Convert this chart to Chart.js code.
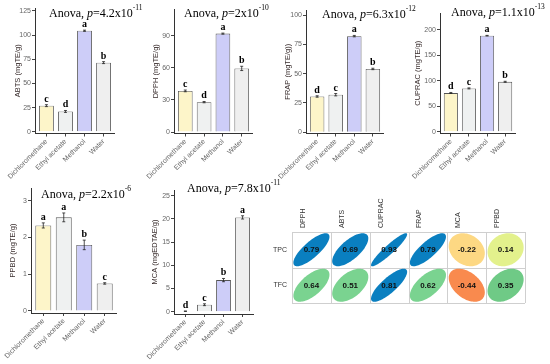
<!DOCTYPE html>
<html><head><meta charset="utf-8">
<script src="https://cdn.jsdelivr.net/npm/chart.js@4.4.1/dist/chart.umd.min.js"></script>
<style>
html,body{margin:0;padding:0;background:#fff;}
#wrap{position:relative;width:550px;height:364px;overflow:hidden;background:#fff;}
canvas{position:absolute;}
.ttl{position:absolute;font-family:"Liberation Serif","Times New Roman",serif;font-size:12px;line-height:12px;white-space:nowrap;color:#000;}
.ttl sup{font-size:7.5px;line-height:7px;vertical-align:top;position:relative;top:-3px;}
</style></head><body><div id="wrap"></div>
<script>
// ---------- data ----------
const categories = ["Dichloromethane","Ethyl acetate","Methanol","Water"];

const abtsValues  = [27, 21, 104.5, 71.5];
const abtsErrors  = [1, 1, 0.6, 1];
const abtsLetters = ["c","d","a","b"];
const abtsTicks   = [0,25,50,75,100,125];

const dpphValues  = [38.5, 28, 92, 59.5];
const dpphErrors  = [0.8, 0.6, 0.5, 2];
const dpphLetters = ["c","d","a","b"];
const dpphTicks   = [0,30,60,90];

const frapValues  = [30.5, 32, 82, 54];
const frapErrors  = [0.6, 1, 0.6, 0.6];
const frapLetters = ["d","c","a","b"];
const frapTicks   = [0,25,50,75,100];

const cupracValues  = [76, 85, 188.5, 98];
const cupracErrors  = [1, 1, 0.6, 1];
const cupracLetters = ["d","c","a","b"];
const cupracTicks   = [0,50,100,150,200];

const ppbdValues  = [2.33, 2.55, 1.8, 0.75];
const ppbdErrors  = [0.07, 0.12, 0.13, 0.02];
const ppbdLetters = ["a","a","b","c"];
const ppbdTicks   = [0,1,2,3];

const mcaValues  = [0.1, 1.5, 6.8, 20.3];
const mcaErrors  = [0.05, 0.2, 0.35, 0.35];
const mcaLetters = ["d","c","b","a"];
const mcaTicks   = [0,5,10,15,20,25];

const anovaP   = ["4.2","2","6.3","1.1","2.2","7.8"];
const anovaExp = ["-11","-10","-12","-13","-6","-11"];

const corrCols = ["DPPH","ABTS","CUPRAC","FRAP","MCA","PPBD"];
const corrRows = ["TPC","TFC"];
const corrTPC  = [0.79, 0.69, 0.93, 0.79, -0.22, 0.14];
const corrTFC  = [0.64, 0.51, 0.81, 0.62, -0.44, 0.35];

// ---------- styles ----------
const barColors = ["#FDF5C9","#EFF1F1","#CDCDF8","#EFEFEF"];
const wrap = document.getElementById('wrap');
const SANS = '"Liberation Sans", Arial, sans-serif';

const barAnnot = {
  id:'barAnnot',
  afterDatasetsDraw(chart){
    const ctx = chart.ctx, ys = chart.scales.y;
    const ds = chart.data.datasets[0];
    const meta = chart.getDatasetMeta(0);
    ctx.save();
    meta.data.forEach((bar,i)=>{
      const v = ds.data[i].y, e = ds.errors[i];
      const yT = ys.getPixelForValue(v+e), yB = ys.getPixelForValue(Math.max(0,v-e));
      ctx.strokeStyle = '#222'; ctx.lineWidth = 0.8;
      ctx.beginPath();
      ctx.moveTo(bar.x, yT); ctx.lineTo(bar.x, yB);
      ctx.moveTo(bar.x-1.5, yT); ctx.lineTo(bar.x+1.5, yT);
      ctx.moveTo(bar.x-1.5, yB); ctx.lineTo(bar.x+1.5, yB);
      ctx.stroke();
      ctx.fillStyle = '#000';
      ctx.font = 'bold 10px "Liberation Serif", serif';
      ctx.textAlign = 'center'; ctx.textBaseline = 'alphabetic';
      ctx.fillText(ds.letters[i], bar.x, yT-3);
    });
    ctx.restore();
  }
};

function addTitle(i, left, baseline){
  const d = document.createElement('div');
  d.className = 'ttl';
  d.style.left = left+'px';
  d.style.top = (baseline-10)+'px';
  d.innerHTML = 'Anova, <i>p</i>=' + anovaP[i] + 'x10<sup>' + anovaExp[i] + '</sup>';
  wrap.appendChild(d);
}

function makeBar(p){
  const c = document.createElement('canvas');
  const L = Math.max(0, p.axisX-40);
  const T = p.top-6;
  const W = Math.round(p.right-L), H = p.canvasBottom-T;
  c.width = W; c.height = H;
  c.style.left = L+'px'; c.style.top = T+'px';
  c.style.width = W+'px'; c.style.height = H+'px';
  wrap.appendChild(c);
  const yw = p.axisX-L, xh = p.canvasBottom-p.bottom;
  new Chart(c, {
    type:'bar',
    data:{datasets:[{
      data:p.values.map((v,i)=>({x:i,y:v})),
      errors:p.errors, letters:p.letters,
      backgroundColor:barColors, borderColor:'#555', borderWidth:0.9,
      barPercentage:0.78, categoryPercentage:1
    }]},
    options:{
      responsive:false, animation:false, devicePixelRatio:1,
      layout:{padding:{top:6,left:0,right:0,bottom:0}},
      plugins:{legend:{display:false}, tooltip:{enabled:false}},
      scales:{
        x:{type:'linear', min:-0.6, max:3.6, offset:false,
           grid:{offset:false, drawOnChartArea:false, tickLength:3, color:'#444'},
           border:{color:'#333', width:1},
           ticks:{color:'#666', font:{size:7, family:SANS}, minRotation:45, maxRotation:45, padding:1, autoSkip:false,
                  callback:v=>categories[v]},
           afterBuildTicks:s=>{ s.ticks = categories.map((_,i)=>({value:i})); },
           afterFit:s=>{ s.height = xh; s.paddingLeft = 0; s.paddingRight = 0; }
        },
        y:{min:p.min, max:p.max,
           grid:{drawOnChartArea:false, tickLength:3, color:'#444'},
           border:{color:'#333', width:1},
           ticks:{color:'#666', font:{size:7, family:SANS}, padding:1},
           afterBuildTicks:s=>{ s.ticks = p.ticks.map(v=>({value:v})); },
           afterFit:s=>{ s.width = yw; s.paddingTop = 0; s.paddingBottom = 0; },
           title:{display:true, text:p.label, color:'#3a2e2e', font:{size:7.5, family:SANS},
                  padding:{top:yw-p.titleOff-4.5, bottom:0}}
        }
      }
    },
    plugins:[barAnnot]
  });
}

makeBar({axisX:35, right:115, top:8, bottom:133.5, canvasBottom:182, min:-1.8, max:128,
  values:abtsValues, errors:abtsErrors, letters:abtsLetters, ticks:abtsTicks, label:"ABTS (mgTE/g)", titleOff:17});
makeBar({axisX:174, right:253, top:9, bottom:133.5, canvasBottom:182, min:-1.3, max:115,
  values:dpphValues, errors:dpphErrors, letters:dpphLetters, ticks:dpphTicks, label:"DPPH (mgTE/g)", titleOff:18});
makeBar({axisX:306, right:384, top:10, bottom:133.5, canvasBottom:182, min:-1.1, max:104.3,
  values:frapValues, errors:frapErrors, letters:frapLetters, ticks:frapTicks, label:"FRAP (mgTE/g))", titleOff:18});
makeBar({axisX:440, right:516, top:13, bottom:133.5, canvasBottom:182, min:-3.5, max:233,
  values:cupracValues, errors:cupracErrors, letters:cupracLetters, ticks:cupracTicks, label:"CUPRAC (mgTE/g)", titleOff:22});
makeBar({axisX:31, right:117, top:188, bottom:313, canvasBottom:364, min:-0.055, max:3.35,
  values:ppbdValues, errors:ppbdErrors, letters:ppbdLetters, ticks:ppbdTicks, label:"PPBD (mgTE/g)", titleOff:18});
makeBar({axisX:174, right:254, top:190, bottom:314, canvasBottom:364, min:-0.5, max:26.2,
  values:mcaValues, errors:mcaErrors, letters:mcaLetters, ticks:mcaTicks, label:"MCA (mgEDTAE/g)", titleOff:19});

addTitle(0, 49, 17);
addTitle(1, 184, 17);
addTitle(2, 322, 17.5);
addTitle(3, 451, 16);
addTitle(4, 41, 198);
addTitle(5, 187, 192);

// ---------- correlation plot ----------
function corrColor(r){
  if (r >= 0.66) return '#0A7FC0';
  if (r >= 0.45) return '#7AD390';
  if (r >= 0.3) return '#6FCA86';
  if (r >= 0) return '#E3F18C';
  if (r >= -0.3) return '#FDD883';
  return '#F98A4E';
}
const corrPlugin = {
  id:'corrPlot',
  beforeDatasetsDraw(chart){
    const ctx = chart.ctx, xs = chart.scales.x, ys = chart.scales.y;
    ctx.save();
    ctx.strokeStyle = '#cfcfcf'; ctx.lineWidth = 1;
    for (let i=0;i<=corrCols.length;i++){
      const x = Math.round(xs.getPixelForValue(i))+0.5;
      ctx.beginPath(); ctx.moveTo(x, ys.getPixelForValue(corrRows.length)); ctx.lineTo(x, ys.getPixelForValue(0)); ctx.stroke();
    }
    for (let j=0;j<=corrRows.length;j++){
      const y = Math.round(ys.getPixelForValue(j))+0.5;
      ctx.beginPath(); ctx.moveTo(xs.getPixelForValue(0), y); ctx.lineTo(xs.getPixelForValue(corrCols.length), y); ctx.stroke();
    }
    const hw = (xs.getPixelForValue(1)-xs.getPixelForValue(0))/2*0.93;
    const hh = (ys.getPixelForValue(0)-ys.getPixelForValue(1))/2*0.93;
    chart.data.datasets.forEach(ds=>{
      ds.data.forEach(pt=>{
        const cx = xs.getPixelForValue(pt.x), cy = ys.getPixelForValue(pt.y);
        const d = Math.acos(pt.r);
        ctx.beginPath();
        for (let k=0;k<=100;k++){
          const t = k/100*Math.PI*2;
          const px = cx + Math.cos(t + d/2)*hw;
          const py = cy - Math.cos(t - d/2)*hh;
          if (k===0) ctx.moveTo(px,py); else ctx.lineTo(px,py);
        }
        ctx.closePath();
        ctx.fillStyle = corrColor(pt.r);
        ctx.fill();
        ctx.fillStyle = '#111';
        ctx.font = 'bold 8px ' + SANS;
        ctx.textAlign = 'center'; ctx.textBaseline = 'middle';
        ctx.fillText(pt.r.toFixed(2), cx, cy+0.5);
      });
    });
    ctx.restore();
  }
};
(function(){
  const c = document.createElement('canvas');
  const L = 262, T = 196, W = 270, H = 112;
  c.width = W; c.height = H;
  c.style.left = L+'px'; c.style.top = T+'px';
  c.style.width = W+'px'; c.style.height = H+'px';
  wrap.appendChild(c);
  const plotLeft = 292, plotTop = 232;
  new Chart(c, {
    type:'scatter',
    data:{datasets:[
      {data:corrTPC.map((r,i)=>({x:i+0.5, y:1.5, r:r})), pointRadius:0},
      {data:corrTFC.map((r,i)=>({x:i+0.5, y:0.5, r:r})), pointRadius:0}
    ]},
    options:{
      responsive:false, animation:false, devicePixelRatio:1,
      layout:{padding:{top:0,left:0,right:7,bottom:5}},
      plugins:{legend:{display:false}, tooltip:{enabled:false}},
      scales:{
        x:{type:'linear', position:'top', min:0, max:corrCols.length,
           grid:{display:false, drawTicks:false}, border:{display:false},
           ticks:{color:'#333', font:{size:7, family:SANS}, minRotation:90, maxRotation:90, padding:4, autoSkip:false,
                  callback:v=>corrCols[Math.floor(v)]},
           afterBuildTicks:s=>{ s.ticks = corrCols.map((_,i)=>({value:i+0.5})); },
           afterFit:s=>{ s.height = plotTop-T; s.paddingLeft = 0; s.paddingRight = 0; }
        },
        y:{type:'linear', min:0, max:corrRows.length,
           grid:{display:false, drawTicks:false}, border:{display:false},
           ticks:{color:'#333', font:{size:7, family:SANS}, padding:5,
                  callback:v=>corrRows[corrRows.length-1-Math.floor(v)]},
           afterBuildTicks:s=>{ s.ticks = corrRows.map((_,i)=>({value:i+0.5})); },
           afterFit:s=>{ s.width = plotLeft-L; s.paddingTop = 0; s.paddingBottom = 0; }
        }
      }
    },
    plugins:[corrPlugin]
  });
})();
</script></body></html>
